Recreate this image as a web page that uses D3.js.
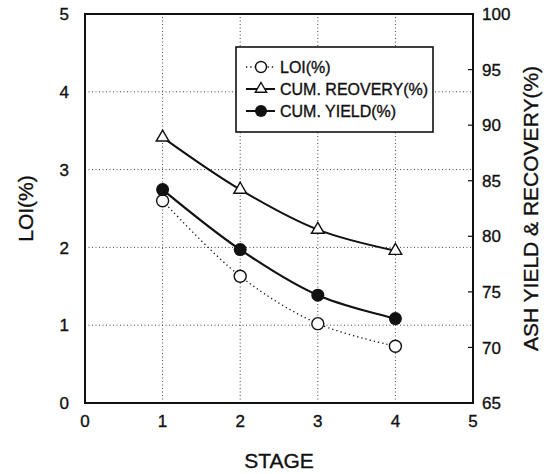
<!DOCTYPE html>
<html>
<head>
<meta charset="utf-8">
<script src="https://cdn.jsdelivr.net/npm/d3@7"></script>
<style>
  body { margin: 0; background: #fff; }
  svg text { font-family: "Liberation Sans", Arial, sans-serif; fill: #111; stroke: #111; stroke-width: 0.35px; }
</style>
</head>
<body>
<div id="chart"></div>
<script>
const width = 548;
const height = 474;

// stage data
const stages = [1, 2, 3, 4];
const loi = [2.60, 1.63, 1.02, 0.73];          // left axis
const cumRecovery = [88.9, 84.2, 80.6, 78.7];  // right axis
const cumYield = [84.2, 78.8, 74.7, 72.6];     // right axis

const xTicks = [0, 1, 2, 3, 4, 5];
const leftTicks = [0, 1, 2, 3, 4, 5];
const rightTicks = [65, 70, 75, 80, 85, 90, 95, 100];

const margin = {top: 14, right: 75, bottom: 71, left: 85};

const svg = d3.select("#chart")
    .append("svg")
    .attr("width", width)
    .attr("height", height);

const x = d3.scaleLinear().domain([0, 5]).range([margin.left, width - margin.right]);
const yL = d3.scaleLinear().domain([0, 5]).range([height - margin.bottom, margin.top]);
const yR = d3.scaleLinear().domain([65, 100]).range([height - margin.bottom, margin.top]);

const x0 = x(0), x1 = x(5), yb = yL(0), yt = yL(5);

// dotted grid
const grid = svg.append("g")
    .attr("stroke", "#444")
    .attr("stroke-width", 1)
    .attr("stroke-dasharray", "1,2.5");

grid.selectAll(".gx")
    .data(xTicks.filter(d => d > 0 && d < 5))
    .enter().append("line")
    .attr("x1", d => x(d)).attr("x2", d => x(d))
    .attr("y1", yb).attr("y2", yt);

grid.selectAll(".gy")
    .data(leftTicks.filter(d => d > 0 && d < 5))
    .enter().append("line")
    .attr("x1", x0).attr("x2", x1)
    .attr("y1", d => yL(d)).attr("y2", d => yL(d));

// frame
svg.append("rect")
    .attr("x", x0).attr("y", yt)
    .attr("width", x1 - x0).attr("height", yb - yt)
    .attr("fill", "none")
    .attr("stroke", "#111")
    .attr("stroke-width", 2);

// right axis inner ticks
svg.selectAll(".rt")
    .data(rightTicks.filter(d => d > 65 && d < 100))
    .enter().append("line")
    .attr("x1", x1 - 5).attr("x2", x1)
    .attr("y1", d => yR(d)).attr("y2", d => yR(d))
    .attr("stroke", "#111")
    .attr("stroke-width", 1.2);

// tick labels
svg.selectAll(".lt")
    .data(leftTicks)
    .enter().append("text")
    .attr("x", 69)
    .attr("y", d => yL(d))
    .attr("dy", "0.36em")
    .attr("text-anchor", "end")
    .attr("font-size", 17)
    .text(d => d);

svg.selectAll(".rl")
    .data(rightTicks)
    .enter().append("text")
    .attr("x", 482)
    .attr("y", d => yR(d))
    .attr("dy", "0.36em")
    .attr("font-size", 17)
    .text(d => d);

svg.selectAll(".xl")
    .data(xTicks)
    .enter().append("text")
    .attr("x", d => x(d))
    .attr("y", 427)
    .attr("text-anchor", "middle")
    .attr("font-size", 17)
    .text(d => d);

// axis titles
svg.append("text")
    .attr("x", (x0 + x1) / 2)
    .attr("y", 468)
    .attr("text-anchor", "middle")
    .attr("font-size", 21)
    .text("STAGE");

svg.append("text")
    .attr("transform", `translate(33,${(yt + yb) / 2}) rotate(-90)`)
    .attr("text-anchor", "middle")
    .attr("font-size", 21)
    .text("LOI(%)");

svg.append("text")
    .attr("transform", `translate(538,${(yt + yb) / 2}) rotate(-90)`)
    .attr("text-anchor", "middle")
    .attr("font-size", 21)
    .text("ASH YIELD & RECOVERY(%)");

// series
const curve = d3.curveCatmullRom.alpha(0.5);
const lineL = d3.line().x((d, i) => x(stages[i])).y(d => yL(d)).curve(curve);
const lineR = d3.line().x((d, i) => x(stages[i])).y(d => yR(d)).curve(curve);

svg.append("path")
    .attr("d", lineL(loi))
    .attr("fill", "none")
    .attr("stroke", "#111")
    .attr("stroke-width", 1.3)
    .attr("stroke-dasharray", "1.3,3");

svg.append("path")
    .attr("d", lineR(cumRecovery))
    .attr("fill", "none")
    .attr("stroke", "#111")
    .attr("stroke-width", 2);

svg.append("path")
    .attr("d", lineR(cumYield))
    .attr("fill", "none")
    .attr("stroke", "#111")
    .attr("stroke-width", 2.2);

const tri = d3.symbol().type(d3.symbolTriangle).size(70);

svg.selectAll(".mt")
    .data(cumRecovery)
    .enter().append("path")
    .attr("d", tri)
    .attr("transform", (d, i) => `translate(${x(stages[i])},${yR(d)})`)
    .attr("fill", "#fff")
    .attr("stroke", "#111")
    .attr("stroke-width", 1.4);

svg.selectAll(".mo")
    .data(loi)
    .enter().append("circle")
    .attr("cx", (d, i) => x(stages[i]))
    .attr("cy", d => yL(d))
    .attr("r", 6)
    .attr("fill", "#fff")
    .attr("stroke", "#111")
    .attr("stroke-width", 1.4);

svg.selectAll(".mf")
    .data(cumYield)
    .enter().append("circle")
    .attr("cx", (d, i) => x(stages[i]))
    .attr("cy", d => yR(d))
    .attr("r", 6.5)
    .attr("fill", "#111");

// legend
const legend = svg.append("g");
legend.append("rect")
    .attr("x", 236).attr("y", 47)
    .attr("width", 197).attr("height", 85)
    .attr("fill", "#fff")
    .attr("stroke", "#111")
    .attr("stroke-width", 1.6);

const legendItems = [
    {label: "LOI(%)", kind: "loi"},
    {label: "CUM. REOVERY(%)", kind: "rec"},
    {label: "CUM. YIELD(%)", kind: "yld"}
];

const triSmall = d3.symbol().type(d3.symbolTriangle).size(55);

legendItems.forEach((item, i) => {
    const cy = 67 + i * 22;
    const g = legend.append("g");
    g.append("line")
        .attr("x1", 246).attr("x2", 275)
        .attr("y1", cy).attr("y2", cy)
        .attr("stroke", "#111")
        .attr("stroke-width", item.kind === "loi" ? 1.3 : 2)
        .attr("stroke-dasharray", item.kind === "loi" ? "1.3,3" : null);
    if (item.kind === "loi") {
        g.append("circle").attr("cx", 261).attr("cy", cy).attr("r", 5.5)
            .attr("fill", "#fff").attr("stroke", "#111").attr("stroke-width", 1.4);
    } else if (item.kind === "rec") {
        g.append("path").attr("d", triSmall)
            .attr("transform", `translate(261,${cy})`)
            .attr("fill", "#fff").attr("stroke", "#111").attr("stroke-width", 1.4);
    } else {
        g.append("circle").attr("cx", 261).attr("cy", cy).attr("r", 6)
            .attr("fill", "#111");
    }
    g.append("text")
        .attr("x", 280)
        .attr("y", cy)
        .attr("dy", "0.36em")
        .attr("font-size", 16)
        .text(item.label);
});
</script>
</body>
</html>
